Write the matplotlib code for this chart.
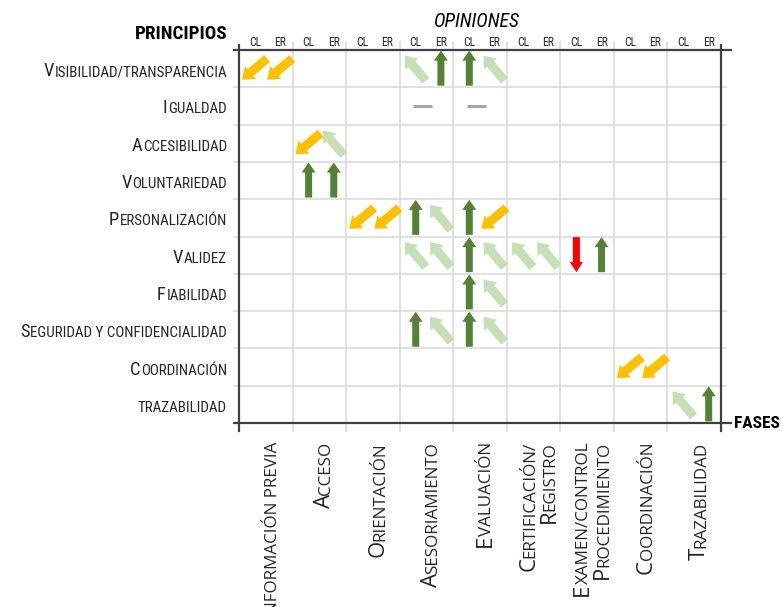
import matplotlib
matplotlib.use("Agg")
import matplotlib.pyplot as plt
from matplotlib import font_manager
from matplotlib.patches import FancyArrowPatch, ArrowStyle
from matplotlib.transforms import IdentityTransform

principios = ["Visibilidad/transparencia", "Igualdad", "Accesibilidad", "Voluntariedad",
              "Personalización", "Validez", "Fiabilidad", "Seguridad y confidencialidad",
              "Coordinación", "trazabilidad"]
fases = [["Información previa"], ["Acceso"], ["Orientación"], ["Asesoriamiento"],
         ["Evaluación"], ["Certificación/", "Registro"], ["Examen/control", "Procedimiento"],
         ["Coordinación"], ["Trazabilidad"]]
opiniones = ["CL", "ER"]

# una cadena por principio, un par (CL, ER) por fase
# G = flecha arriba verde, L = diagonal verde claro, Y = diagonal amarilla,
# R = flecha abajo roja, = = igual, . = nada
marcas = [
    "YY .. .. LG GL .. .. .. ..",
    ".. .. .. =. =. .. .. .. ..",
    ".. YL .. .. .. .. .. .. ..",
    ".. GG .. .. .. .. .. .. ..",
    ".. .. YY GL GY .. .. .. ..",
    ".. .. .. LL GL LL RG .. ..",
    ".. .. .. .. GL .. .. .. ..",
    ".. .. .. GL GL .. .. .. ..",
    ".. .. .. .. .. .. .. YY ..",
    ".. .. .. .. .. .. .. .. LG",
]

# color, cola (px), punta (px), ancho cola, ancho punta, largo punta
flechas = {
    "G": ("#548235", (0, -17), (0, 18), 7, 14, 10),
    "R": ("#FF0000", (0, 18), (0, -17), 7, 13, 10),
    "L": ("#C5E0B4", (10, -12), (-11, 13), 9, 17, 11),
    "Y": ("#FFC000", (12, 10), (-13, -11), 9, 17, 11),
}
slot_x = [0.3, 0.77]
PT = 72 / 100
TXT = "#262626"

instaladas = {f.name for f in font_manager.fontManager.ttflist}


def primera(cands):
    for c in cands:
        if c in instaladas:
            return c
    return "DejaVu Sans"


F_H = primera(["Liberation Sans Narrow", "Roboto Condensed", "Open Sans Condensed", "Roboto"])
F_V = primera(["Open Sans", "Lato", "Liberation Sans"])

W, H = 783, 607
fig = plt.figure(figsize=(W / 100, H / 100), dpi=100)
fig.patch.set_facecolor("white")
ax = fig.add_axes([239 / W, 1 - 423 / H, 482 / W, 373 / H])
ax.set_xlim(0, len(fases))
ax.set_ylim(len(principios), 0)
ax.axis("off")

renderer = fig.canvas.get_renderer()
bb = ax.get_window_extent(renderer)
nf, nr = len(fases), len(principios)
sx = bb.width / nf
sy = bb.height / nr

# rejilla
ox, oy = 5 / sx, 8 / sy
for c in range(1, nf):
    ax.plot([c, c], [-oy, nr + oy], color="#D9D9D9", lw=1.1, clip_on=False, zorder=1)
for r in range(1, nr):
    ax.plot([-ox, nf + ox], [r, r], color="#D9D9D9", lw=1.1, clip_on=False, zorder=1)
for c in (0, nf):
    ax.plot([c, c], [-5 / sy, nr + 8 / sy], color="#404040", lw=1.6, clip_on=False, zorder=2)
for r in (0, nr):
    ax.plot([-ox, nf + 10 / sx], [r, r], color="#404040", lw=1.6, clip_on=False, zorder=2)

# flechas
for i, fila in enumerate(marcas):
    for j, par in enumerate(fila.split()):
        for k, m in enumerate(par):
            if m == ".":
                continue
            cx, cy = j + slot_x[k], i + 0.5
            if m == "=":
                cx += 7 / sx
                ax.plot([cx - 9.5 / sx, cx + 9.5 / sx], [cy, cy], color="#A6A6A6", lw=3 * PT,
                        solid_capstyle="butt", zorder=3)
                continue
            color, cola, punta, tw, hw, hl = flechas[m]
            estilo = ArrowStyle.Simple(head_length=hl * PT, head_width=hw * PT, tail_width=tw * PT)
            a = FancyArrowPatch((cx + cola[0] / sx, cy - cola[1] / sy),
                                (cx + punta[0] / sx, cy - punta[1] / sy),
                                arrowstyle=estilo, mutation_scale=1, color=color, lw=0,
                                shrinkA=0, shrinkB=0, zorder=4)
            ax.add_patch(a)


def partir(texto):
    partes = []
    for ch in texto:
        big = ch.isupper()
        if partes and partes[-1][1] == big:
            partes[-1][0] += ch
        else:
            partes.append([ch, big])
    return partes


def versalitas(x, y, texto, grande, chica, familia, rot=0):
    # versalitas: (x, y) es el final de la linea base; se arma de atras hacia adelante
    pos = 0
    objs = []
    sep = 0.8 if rot == 0 else -1.0
    for s, big in reversed(partir(texto)):
        t = fig.text(0, 0, s.upper(), size=grande if big else chica, family=familia,
                     rotation=rot, rotation_mode="anchor", ha="right", va="baseline",
                     transform=IdentityTransform(), color=TXT)
        t.set_position((x - pos, y) if rot == 0 else (x, y - pos))
        w = t.get_window_extent(renderer)
        pos += (w.width if rot == 0 else w.height) + sep
        objs.append(t)
    return objs, pos


def medir(texto, grande, chica, familia):
    objs, largo = versalitas(0, 0, texto, grande, chica, familia)
    for t in objs:
        t.remove()
    return largo


def ajustar(t, ancho):
    w = t.get_window_extent(renderer).width
    t.set_size(t.get_size() * ancho / w)


x0, ytop = ax.transData.transform((0, 0))
x9, ybot = ax.transData.transform((nf, nr))

# tamaños ajustados al ancho de las etiquetas del original
fh = 185 / medir(principios[0], 14.5, 11.8, F_H)
fv = 148 / medir(fases[3][0], 15, 11.5, F_V)

for i, p in enumerate(principios):
    _, yc = ax.transData.transform((0, i + 0.5))
    versalitas(x0 - 12, yc - 7.5, p, 14.5 * fh, 11.8 * fh, F_H)

for j, lineas in enumerate(fases):
    xc, _ = ax.transData.transform((j + 0.5, 0))
    n = len(lineas)
    for k, s in enumerate(lineas):
        versalitas(xc + 11 + (k - (n - 1) / 2) * 20, ybot - 19, s, 15 * fv, 11.5 * fv, F_V, rot=90)

for j in range(nf):
    for k, op in enumerate(opiniones):
        t = ax.text(j + slot_x[k], -4 / sy, op, ha="center", va="baseline", size=8,
                    family=F_H, color=TXT)
        ajustar(t, 12)

t = fig.text(x0 - 12, ytop + 11, "PRINCIPIOS", transform=IdentityTransform(), ha="right",
             va="baseline", size=13, weight="bold", family=F_H, color="black")
ajustar(t, 92)
t = fig.text((x0 + x9) / 2 - 3, ytop + 23, "OPINIONES", transform=IdentityTransform(),
             ha="center", va="baseline", size=14, style="italic", family=F_H, color="black")
ajustar(t, 86)
t = fig.text(x9 + 13, ybot, "FASES", transform=IdentityTransform(), ha="left",
             va="center", size=12, weight="bold", family=F_H, color="black")
ajustar(t, 46)

fig.savefig("out.png", dpi=100, facecolor="white")
